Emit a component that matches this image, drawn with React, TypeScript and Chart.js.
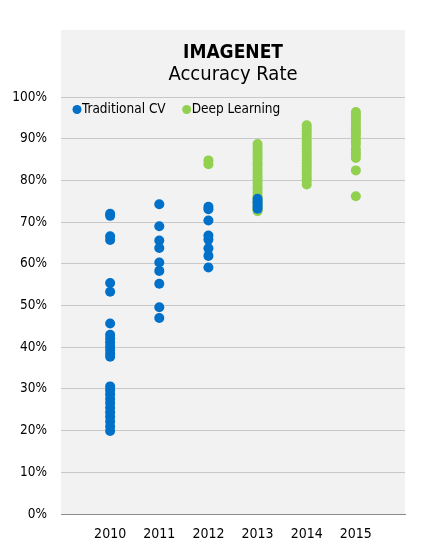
import React, { useEffect, useRef } from "react";
import { Chart, registerables } from "chart.js";

Chart.register(...registerables);

const TITLE = "IMAGENET";
const SUBTITLE = "Accuracy Rate";
const SERIES_NAMES = ["Traditional CV", "Deep Learning"];
const SERIES_COLORS = ["#0070C8", "#92D050"];
const YEARS = [2010, 2011, 2012, 2013, 2014, 2015];
const Y_TICKS = [0, 10, 20, 30, 40, 50, 60, 70, 80, 90, 100];

// Traditional CV accuracy (%) per year
const traditional2010 = [
  72.0, 71.5, 66.6, 65.7, 55.4, 53.3, 45.7, 43.0, 42.1, 41.2, 40.3, 39.4, 38.5, 37.7,
  30.6, 29.7, 28.7, 27.6, 26.6, 25.5, 24.4, 23.3, 22.2, 21.0, 19.9,
];
const traditional2011 = [74.3, 69.0, 65.6, 63.8, 60.3, 58.3, 55.2, 49.6, 47.0];
const traditional2012 = [73.7, 73.1, 70.4, 66.8, 65.8, 63.7, 61.9, 59.1];
const traditional2013 = [75.6, 75.0, 74.4, 73.8, 73.2];

// Deep Learning accuracy (%) per year
const deep2012 = [84.8, 83.9];
const deep2013 = [
  88.7, 88.0, 87.3, 86.5, 85.8, 85.0, 84.2, 83.5, 82.6, 81.8, 81.0, 80.3, 79.4, 78.6,
  77.9, 77.0, 76.2, 75.4, 74.6, 73.8, 73.0, 72.6,
];
const deep2014 = [
  93.2, 92.5, 91.8, 91.1, 90.4, 89.7, 89.0, 88.3, 87.6, 86.9, 86.2, 85.5, 84.8, 84.1,
  83.4, 82.7, 82.0, 81.3, 80.6, 79.9, 79.0,
];
const deep2015 = [
  96.4, 95.8, 95.1, 94.5, 93.8, 93.1, 92.4, 91.8, 91.1, 90.3, 89.5, 88.7, 87.6, 86.8,
  86.2, 85.4, 82.4, 76.2,
];

const traditionalByYear: number[][] = [traditional2010, traditional2011, traditional2012, traditional2013, [], []];
const deepByYear: number[][] = [[], [], deep2012, deep2013, deep2014, deep2015];

const FONT = "'DejaVu Sans Condensed', 'DejaVu Sans', sans-serif";

function toPoints(byYear: number[][]) {
  const pts: { x: number; y: number }[] = [];
  byYear.forEach((vals, i) => vals.forEach((v) => pts.push({ x: YEARS[i], y: v })));
  return pts;
}

const panelPlugin = {
  id: "panelDecor",
  beforeDraw(chart: any) {
    const { ctx, chartArea } = chart;
    ctx.save();
    ctx.fillStyle = "#f2f2f2";
    ctx.fillRect(chartArea.left, 30, chartArea.right - chartArea.left, chartArea.bottom - 30);
    ctx.restore();
  },
  afterDraw(chart: any) {
    const { ctx, chartArea } = chart;
    const cx = (chartArea.left + chartArea.right) / 2;
    ctx.save();
    ctx.fillStyle = "#000";
    ctx.textAlign = "center";
    ctx.textBaseline = "alphabetic";
    ctx.font = `bold 19px ${FONT}`;
    ctx.fillText(TITLE, cx, 57.5);
    ctx.font = `20px ${FONT}`;
    ctx.fillText(SUBTITLE, cx, 80);
    // legend
    ctx.font = `13.5px ${FONT}`;
    ctx.textAlign = "left";
    ctx.textBaseline = "middle";
    let x = chartArea.left + 16;
    const y = 109.5;
    chart.data.datasets.forEach((ds: any) => {
      ctx.fillStyle = ds.backgroundColor;
      ctx.beginPath();
      ctx.arc(x, y, 4.5, 0, Math.PI * 2);
      ctx.fill();
      ctx.fillStyle = "#000";
      ctx.fillText(ds.label, x + 5, y);
      x += 5 + ctx.measureText(ds.label).width + 21;
    });
    ctx.restore();
  },
};

export default function App() {
  const ref = useRef<HTMLCanvasElement | null>(null);
  useEffect(() => {
    if (!ref.current) return;
    const chart = new Chart(ref.current, {
      type: "scatter",
      data: {
        datasets: [
          {
            label: SERIES_NAMES[0],
            data: toPoints(traditionalByYear),
            backgroundColor: SERIES_COLORS[0],
            borderWidth: 0,
            pointRadius: 5,
          },
          {
            label: SERIES_NAMES[1],
            data: toPoints(deepByYear),
            backgroundColor: SERIES_COLORS[1],
            borderWidth: 0,
            pointRadius: 5,
          },
        ],
      },
      options: {
        responsive: false,
        animation: false,
        layout: { padding: { top: 97, right: 21, bottom: 0, left: 0 } },
        plugins: {
          legend: { display: false },
          title: { display: false },
          tooltip: { enabled: false },
        },
        scales: {
          x: {
            type: "linear",
            min: 2009,
            max: 2016,
            afterBuildTicks: (s: any) => {
              s.ticks = YEARS.map((v) => ({ value: v }));
            },
            afterFit: (s: any) => {
              s.height = 41;
            },
            ticks: {
              callback: (v: any) => String(v),
              color: "#000",
              font: { family: FONT, size: 14 },
              padding: 12,
              maxRotation: 0,
              autoSkip: false,
            },
            grid: { display: false, drawTicks: false },
            border: { display: true, color: "#8c8c8c", width: 1 },
          },
          y: {
            min: 0,
            max: 100,
            afterBuildTicks: (s: any) => {
              s.ticks = Y_TICKS.map((v) => ({ value: v }));
            },
            afterFit: (s: any) => {
              s.width = 61;
            },
            ticks: {
              callback: (v: any) => `${v}%`,
              color: "#000",
              font: { family: FONT, size: 13.5 },
              padding: 14,
            },
            grid: {
              drawTicks: false,
              color: (c: any) => (c.tick && c.tick.value === 0 ? "rgba(0,0,0,0)" : "#c8c8c8"),
              lineWidth: 1,
            },
            border: { display: false },
          },
        },
      },
      plugins: [panelPlugin],
    });
    return () => chart.destroy();
  }, []);
  return (
    <div style={{ position: "fixed", left: 0, top: 0, width: 426, height: 555, background: "#fff" }}>
      <canvas ref={ref} width={426} height={555} style={{ width: 426, height: 555, display: "block" }} />
    </div>
  );
}
